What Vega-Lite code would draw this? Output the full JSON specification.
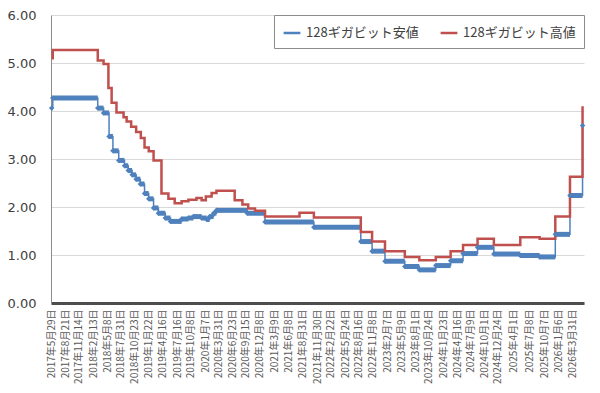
{
  "$schema": "https://vega.github.io/schema/vega-lite/v6.json",
  "autosize": {"type": "none"},
  "padding": {"left": 51, "top": 15, "right": 16, "bottom": 90},
  "width": 533,
  "height": 288,
  "background": "white",
  "config": {
    "view": {"stroke": null},
    "font": "Noto Sans CJK JP"
  },
  "data": {
    "values": [
      {"date": "2017-05-29", "series": "128ギガビット安値", "value": 4.06},
      {"date": "2017-06-05", "series": "128ギガビット安値", "value": 4.27},
      {"date": "2018-03-11", "series": "128ギガビット安値", "value": 4.06},
      {"date": "2018-04-16", "series": "128ギガビット安値", "value": 3.96},
      {"date": "2018-05-20", "series": "128ギガビット安値", "value": 3.47},
      {"date": "2018-06-13", "series": "128ギガビット安値", "value": 3.17},
      {"date": "2018-07-19", "series": "128ギガビット安値", "value": 2.97},
      {"date": "2018-08-24", "series": "128ギガビット安値", "value": 2.86},
      {"date": "2018-09-16", "series": "128ギガビット安値", "value": 2.76},
      {"date": "2018-10-10", "series": "128ギガビット安値", "value": 2.67},
      {"date": "2018-11-04", "series": "128ギガビット安値", "value": 2.58},
      {"date": "2018-11-30", "series": "128ギガビット安値", "value": 2.48},
      {"date": "2018-12-26", "series": "128ギガビット安値", "value": 2.28},
      {"date": "2019-01-21", "series": "128ギガビット安値", "value": 2.17},
      {"date": "2019-02-20", "series": "128ギガビット安値", "value": 1.98},
      {"date": "2019-03-22", "series": "128ギガビット安値", "value": 1.87},
      {"date": "2019-05-04", "series": "128ギガビット安値", "value": 1.77},
      {"date": "2019-06-05", "series": "128ギガビット安値", "value": 1.70},
      {"date": "2019-08-13", "series": "128ギガビット安値", "value": 1.75},
      {"date": "2019-09-24", "series": "128ギガビット安値", "value": 1.77},
      {"date": "2019-10-25", "series": "128ギガビット安値", "value": 1.80},
      {"date": "2019-12-15", "series": "128ギガビット安値", "value": 1.77},
      {"date": "2020-01-16", "series": "128ギガビット安値", "value": 1.74},
      {"date": "2020-02-03", "series": "128ギガビット安値", "value": 1.80},
      {"date": "2020-02-27", "series": "128ギガビット安値", "value": 1.87},
      {"date": "2020-03-16", "series": "128ギガビット安値", "value": 1.93},
      {"date": "2020-09-23", "series": "128ギガビット安値", "value": 1.87},
      {"date": "2021-01-11", "series": "128ギガビット安値", "value": 1.69},
      {"date": "2021-11-10", "series": "128ギガビット安値", "value": 1.58},
      {"date": "2022-08-28", "series": "128ギガビット安値", "value": 1.28},
      {"date": "2022-11-06", "series": "128ギガビット安値", "value": 1.08},
      {"date": "2023-01-25", "series": "128ギガビット安値", "value": 0.87},
      {"date": "2023-05-28", "series": "128ギガビット安値", "value": 0.76},
      {"date": "2023-08-26", "series": "128ギガビット安値", "value": 0.69},
      {"date": "2023-12-06", "series": "128ギガビット安値", "value": 0.78},
      {"date": "2024-03-07", "series": "128ギガビット安値", "value": 0.88},
      {"date": "2024-05-23", "series": "128ギガビット安値", "value": 1.03},
      {"date": "2024-08-21", "series": "128ギガビット安値", "value": 1.16},
      {"date": "2024-11-30", "series": "128ギガビット安値", "value": 1.02},
      {"date": "2025-05-13", "series": "128ギガビット安値", "value": 0.99},
      {"date": "2025-09-10", "series": "128ギガビット安値", "value": 0.96},
      {"date": "2025-12-16", "series": "128ギガビット安値", "value": 1.43},
      {"date": "2026-03-17", "series": "128ギガビット安値", "value": 2.24},
      {"date": "2026-06-03", "series": "128ギガビット安値", "value": 3.70},

      {"date": "2017-05-29", "series": "128ギガビット高値", "value": 5.10},
      {"date": "2017-06-05", "series": "128ギガビット高値", "value": 5.27},
      {"date": "2018-03-11", "series": "128ギガビット高値", "value": 5.05},
      {"date": "2018-04-16", "series": "128ギガビット高値", "value": 4.98},
      {"date": "2018-05-16", "series": "128ギガビット高値", "value": 4.48},
      {"date": "2018-06-05", "series": "128ギガビット高値", "value": 4.17},
      {"date": "2018-07-05", "series": "128ギガビット高値", "value": 3.97},
      {"date": "2018-08-18", "series": "128ギガビット高値", "value": 3.87},
      {"date": "2018-09-06", "series": "128ギガビット高値", "value": 3.78},
      {"date": "2018-10-04", "series": "128ギガビット高値", "value": 3.67},
      {"date": "2018-11-04", "series": "128ギガビット高値", "value": 3.56},
      {"date": "2018-12-03", "series": "128ギガビット高値", "value": 3.44},
      {"date": "2018-12-26", "series": "128ギガビット高値", "value": 3.24},
      {"date": "2019-01-21", "series": "128ギガビット高値", "value": 3.16},
      {"date": "2019-02-20", "series": "128ギガビット高値", "value": 2.97},
      {"date": "2019-04-10", "series": "128ギガビット高値", "value": 2.28},
      {"date": "2019-05-23", "series": "128ギガビット高値", "value": 2.17},
      {"date": "2019-07-01", "series": "128ギガビット高値", "value": 2.08},
      {"date": "2019-08-13", "series": "128ギガビット高値", "value": 2.12},
      {"date": "2019-09-24", "series": "128ギガビット高値", "value": 2.15},
      {"date": "2019-11-13", "series": "128ギガビット高値", "value": 2.19},
      {"date": "2019-12-15", "series": "128ギガビット高値", "value": 2.14},
      {"date": "2020-01-10", "series": "128ギガビット高値", "value": 2.22},
      {"date": "2020-02-15", "series": "128ギガビット高値", "value": 2.29},
      {"date": "2020-03-16", "series": "128ギガビット高値", "value": 2.34},
      {"date": "2020-07-07", "series": "128ギガビット高値", "value": 2.14},
      {"date": "2020-08-24", "series": "128ギガビット高値", "value": 2.05},
      {"date": "2020-09-29", "series": "128ギガビット高値", "value": 1.97},
      {"date": "2020-11-10", "series": "128ギガビット高値", "value": 1.92},
      {"date": "2021-01-11", "series": "128ギガビット高値", "value": 1.80},
      {"date": "2021-08-13", "series": "128ギガビット高値", "value": 1.88},
      {"date": "2021-11-10", "series": "128ギガビット高値", "value": 1.78},
      {"date": "2022-08-28", "series": "128ギガビット高値", "value": 1.48},
      {"date": "2022-11-06", "series": "128ギガビット高値", "value": 1.28},
      {"date": "2023-01-25", "series": "128ギガビット高値", "value": 1.08},
      {"date": "2023-05-28", "series": "128ギガビット高値", "value": 0.96},
      {"date": "2023-08-26", "series": "128ギガビット高値", "value": 0.89},
      {"date": "2023-12-06", "series": "128ギガビット高値", "value": 0.96},
      {"date": "2024-03-07", "series": "128ギガビット高値", "value": 1.08},
      {"date": "2024-05-23", "series": "128ギガビット高値", "value": 1.21},
      {"date": "2024-08-21", "series": "128ギガビット高値", "value": 1.34},
      {"date": "2024-11-30", "series": "128ギガビット高値", "value": 1.21},
      {"date": "2025-05-13", "series": "128ギガビット高値", "value": 1.37},
      {"date": "2025-09-10", "series": "128ギガビット高値", "value": 1.34},
      {"date": "2025-12-16", "series": "128ギガビット高値", "value": 1.80},
      {"date": "2026-03-17", "series": "128ギガビット高値", "value": 2.63},
      {"date": "2026-06-03", "series": "128ギガビット高値", "value": 4.10}
    ]
  },
  "encoding": {
    "x": {
      "field": "date",
      "type": "temporal",
      "scale": {
        "type": "utc",
        "domain": [
          {"year": 2017, "month": 5, "date": 25, "utc": true},
          {"year": 2026, "month": 6, "date": 12, "utc": true}
        ]
      },
      "axis": {
        "title": null,
        "grid": false,
        "ticks": false,
        "format": "%Y年%-m月%-d日",
        "labelAngle": 270,
        "labelFont": "Noto Sans CJK JP",
        "labelFontSize": 10,
        "labelColor": "#595959",
        "labelPadding": 6,
        "labelOverlap": false,
        "labelBound": false,
        "labelFlush": false,
        "domainColor": "#4d4d4d",
        "domainWidth": 3,
        "values": [
          {"year": 2017, "month": 5, "date": 29, "utc": true},
          {"year": 2017, "month": 8, "date": 21, "utc": true},
          {"year": 2017, "month": 11, "date": 14, "utc": true},
          {"year": 2018, "month": 2, "date": 13, "utc": true},
          {"year": 2018, "month": 5, "date": 8, "utc": true},
          {"year": 2018, "month": 7, "date": 31, "utc": true},
          {"year": 2018, "month": 10, "date": 23, "utc": true},
          {"year": 2019, "month": 1, "date": 22, "utc": true},
          {"year": 2019, "month": 4, "date": 16, "utc": true},
          {"year": 2019, "month": 7, "date": 16, "utc": true},
          {"year": 2019, "month": 10, "date": 8, "utc": true},
          {"year": 2020, "month": 1, "date": 7, "utc": true},
          {"year": 2020, "month": 3, "date": 31, "utc": true},
          {"year": 2020, "month": 6, "date": 23, "utc": true},
          {"year": 2020, "month": 9, "date": 15, "utc": true},
          {"year": 2020, "month": 12, "date": 8, "utc": true},
          {"year": 2021, "month": 3, "date": 9, "utc": true},
          {"year": 2021, "month": 6, "date": 8, "utc": true},
          {"year": 2021, "month": 8, "date": 31, "utc": true},
          {"year": 2021, "month": 11, "date": 30, "utc": true},
          {"year": 2022, "month": 2, "date": 22, "utc": true},
          {"year": 2022, "month": 5, "date": 24, "utc": true},
          {"year": 2022, "month": 8, "date": 16, "utc": true},
          {"year": 2022, "month": 11, "date": 8, "utc": true},
          {"year": 2023, "month": 2, "date": 7, "utc": true},
          {"year": 2023, "month": 5, "date": 9, "utc": true},
          {"year": 2023, "month": 8, "date": 1, "utc": true},
          {"year": 2023, "month": 10, "date": 24, "utc": true},
          {"year": 2024, "month": 1, "date": 23, "utc": true},
          {"year": 2024, "month": 4, "date": 16, "utc": true},
          {"year": 2024, "month": 7, "date": 9, "utc": true},
          {"year": 2024, "month": 10, "date": 1, "utc": true},
          {"year": 2024, "month": 12, "date": 24, "utc": true},
          {"year": 2025, "month": 4, "date": 1, "utc": true},
          {"year": 2025, "month": 7, "date": 8, "utc": true},
          {"year": 2025, "month": 10, "date": 7, "utc": true},
          {"year": 2026, "month": 1, "date": 6, "utc": true},
          {"year": 2026, "month": 3, "date": 31, "utc": true}
        ]
      }
    },
    "y": {
      "field": "value",
      "type": "quantitative",
      "scale": {"domain": [0, 6], "nice": false},
      "axis": {
        "title": null,
        "values": [0, 1, 2, 3, 4, 5, 6],
        "format": ".2f",
        "ticks": false,
        "labelPadding": 15,
        "labelFont": "DejaVu Sans",
        "labelFontSize": 13,
        "labelColor": "#404040",
        "domainColor": "#8c8c8c",
        "gridColor": "#d9d9d9"
      }
    },
    "color": {
      "field": "series",
      "type": "nominal",
      "scale": {
        "domain": ["128ギガビット安値", "128ギガビット高値"],
        "range": ["#4F81BD", "#C0504D"]
      },
      "legend": {
        "title": null,
        "orient": "top-right",
        "offset": 0,
        "direction": "horizontal",
        "fillColor": "white",
        "strokeColor": "#8c8c8c",
        "padding": 8,
        "symbolType": "stroke",
        "symbolSize": 280,
        "symbolStrokeWidth": 2.5,
        "columnPadding": 16,
        "labelFont": "Noto Sans CJK JP",
        "labelFontSize": 13,
        "labelColor": "#404040",
        "labelLimit": 0
      }
    }
  },
  "layer": [
    {
      "transform": [
        {"filter": "datum.series === '128ギガビット安値'"},
        {"window": [{"op": "lead", "field": "date", "as": "next"}], "sort": [{"field": "date"}]},
        {"filter": "datum.next != null"}
      ],
      "mark": {"type": "rule", "strokeWidth": 5, "strokeCap": "butt"},
      "encoding": {"x2": {"field": "next"}}
    },
    {
      "transform": [{"filter": "datum.series === '128ギガビット安値'"}],
      "mark": {"type": "line", "interpolate": "step-after", "strokeWidth": 1.5},
      "encoding": {}
    },
    {
      "transform": [{"filter": "datum.series === '128ギガビット高値'"}],
      "mark": {"type": "line", "interpolate": "step-after", "strokeWidth": 2.5},
      "encoding": {}
    },
    {
      "transform": [{"filter": "datum.series === '128ギガビット安値'"}],
      "mark": {"type": "point", "shape": "diamond", "filled": true, "size": 30, "opacity": 1},
      "encoding": {}
    }
  ]
}
